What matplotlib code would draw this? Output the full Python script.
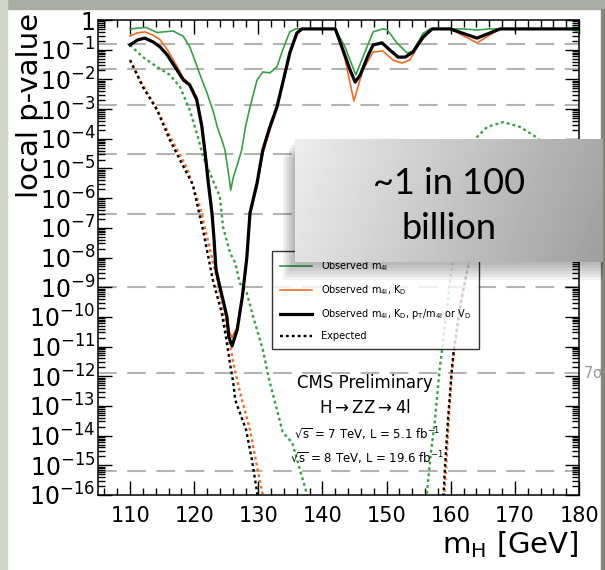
import numpy as np
import matplotlib.pyplot as plt
from matplotlib.lines import Line2D
from matplotlib.patches import Rectangle
from matplotlib.ticker import MultipleLocator, LogLocator, NullFormatter

plt.rcParams['mathtext.default'] = 'regular'

## DATA (log10 of local p-value vs m_H) ##

# observed, m4l only (green)
obs_m4l_m = [110.0, 112.5, 114.2, 116.7, 118.3, 119.3, 120.0, 121.0, 122.0, 123.0, 123.6,
             124.4, 124.8, 125.5, 125.7, 126.1, 126.8, 127.4, 128.0, 128.7, 129.8, 130.7,
             131.8, 132.9, 133.8, 134.9, 135.8, 142.0, 143.5, 145.2, 146.3, 147.9, 149.4,
             150.1, 151.6, 153.2, 154.1, 155.7, 156.8, 162.0, 164.1, 166.0, 178.6, 180.0]
obs_m4l_lp = [-0.30, -0.25, -0.42, -0.37, -0.55, -0.90, -1.30, -1.90, -2.46, -3.10, -3.60,
              -4.10, -4.38, -5.40, -5.73, -5.30, -4.82, -4.38, -3.60, -2.93, -2.02, -1.75,
              -1.78, -1.58, -1.01, -0.40, -0.30, -0.30, -0.90, -1.85, -1.25, -0.40, -0.30,
              -0.33, -0.77, -1.11, -1.05, -0.45, -0.30, -0.30, -0.34, -0.30, -0.30, -0.40]

# observed, m4l + KD (orange)
obs_kd_m = [110.0, 111.0, 112.3, 113.6, 114.7, 115.8, 117.3, 118.3, 119.3, 120.4, 121.2,
            121.7, 122.2, 122.8, 123.1, 123.4, 124.0, 124.6, 125.1, 125.5, 125.9, 126.7,
            127.5, 128.2, 128.7, 129.8, 130.7, 131.8, 132.9, 133.8, 134.9, 136.0, 136.8,
            142.0, 143.5, 144.9, 146.3, 147.9, 149.4, 151.0, 152.4, 153.6, 155.2, 156.8,
            157.3, 159.9, 164.1, 167.7, 180.0]
obs_kd_lp = [-0.54, -0.44, -0.40, -0.51, -0.67, -1.00, -1.55, -1.95, -2.15, -2.60, -3.50,
             -4.30, -5.30, -6.40, -7.30, -8.30, -8.90, -9.50, -10.00, -10.50, -10.70, -10.35,
             -9.30, -8.10, -6.60, -5.60, -4.50, -3.70, -3.00, -2.20, -1.20, -0.50, -0.30,
             -0.30, -1.30, -2.73, -1.68, -1.08, -1.04, -1.35, -1.45, -1.35, -0.77, -0.34,
             -0.30, -0.30, -0.77, -0.30, -0.30]

# observed, m4l + KD + pT/m4l or VD (black)
obs_all_m = [110.0, 111.2, 112.3, 113.6, 114.7, 115.8, 117.3, 118.3, 119.3, 120.4, 121.2,
             121.7, 122.2, 122.8, 123.1, 123.4, 124.0, 124.6, 125.1, 125.4, 125.9, 126.7,
             127.5, 128.2, 128.7, 129.8, 130.7, 131.8, 132.9, 133.8, 134.9, 136.0, 136.8,
             142.0, 143.2, 144.3, 145.1, 145.9, 147.0, 147.9, 149.3, 150.5, 151.8, 152.9,
             154.1, 155.7, 157.1, 159.9, 164.1, 167.7, 180.0]
obs_all_lp = [-0.84, -0.67, -0.61, -0.74, -0.91, -1.18, -1.68, -2.02, -2.19, -2.69, -3.60,
              -4.48, -5.49, -6.57, -7.41, -8.42, -8.99, -9.53, -10.00, -10.68, -10.98, -10.44,
              -9.33, -8.02, -6.50, -5.49, -4.38, -3.60, -2.93, -2.12, -1.11, -0.44, -0.30,
              -0.30, -1.01, -1.68, -2.09, -1.85, -1.25, -0.84, -0.77, -1.01, -1.25, -1.25,
              -1.08, -0.57, -0.30, -0.30, -0.61, -0.30, -0.30]

# expected curves (dotted)
exp_m4l_m = [110.0, 112.0, 114.2, 116.2, 117.8, 119.3, 120.4, 121.4, 122.9, 124.0, 124.5,
             125.6, 126.4, 127.1, 128.2, 129.2, 130.7, 131.7, 133.8, 135.3, 136.5, 137.4,
             138.5, 155.5, 156.3, 156.9, 157.5, 158.3, 158.6, 160.0, 161.0, 162.0, 163.0,
             164.1, 165.7, 168.2, 170.8, 173.5, 176.0, 180.0]
exp_m4l_lp = [-0.84, -1.25, -1.58, -1.85, -2.26, -3.03, -3.81, -4.61, -5.39, -5.95, -6.97,
              -7.85, -8.18, -8.86, -9.19, -10.00, -11.11, -12.13, -13.88, -14.25, -15.16, -15.83,
              -17.00, -17.00, -15.90, -14.58, -13.57, -11.69, -11.20, -8.60, -7.10, -5.80, -4.70,
              -3.94, -3.60, -3.44, -3.60, -3.97, -4.60, -5.60]

exp_kd_m = [110.0, 112.0, 114.2, 116.2, 118.9, 120.9, 122.0, 123.6, 125.1, 126.1, 127.1,
            128.7, 129.9, 130.7, 131.2, 158.6, 159.0, 159.3, 159.7, 160.2, 160.6, 161.5,
            162.5, 163.5, 165.0, 168.0, 172.0, 176.0, 180.0]
exp_kd_lp = [-1.35, -2.20, -3.00, -3.90, -5.00, -6.30, -7.31, -8.76, -10.44, -11.55, -12.50,
             -13.81, -15.16, -16.00, -17.00, -17.00, -16.00, -15.00, -13.40, -11.80, -11.00, -9.60,
             -8.50, -7.60, -6.80, -6.20, -6.30, -6.80, -7.40]

exp_all_m = [110.0, 112.0, 114.2, 116.2, 117.8, 119.8, 120.9, 121.4, 122.2, 122.9, 124.3,
             125.1, 125.6, 126.1, 126.4, 128.1, 129.0, 129.8, 130.3, 158.5, 158.8, 159.1,
             159.6, 160.2, 160.5, 161.5, 162.5, 163.5, 165.0, 168.0, 172.0, 176.0, 180.0]
exp_all_lp = [-1.35, -2.26, -3.03, -4.04, -4.72, -5.55, -6.64, -7.10, -7.98, -8.76, -9.87,
              -10.88, -11.60, -12.23, -12.80, -13.81, -14.82, -15.90, -17.00, -17.00, -16.30, -15.06,
              -13.37, -11.69, -11.10, -9.60, -8.50, -7.60, -6.80, -6.20, -6.30, -6.80, -7.40]

# one-sided gaussian significances 1..8 sigma
sigma_p = [0.1587, 0.02275, 1.350e-3, 3.167e-5, 2.867e-7, 9.866e-10, 1.280e-12, 6.221e-16]

ylabels = ['1'] + [r'$10^{-%d}$' % k for k in range(1, 17)]

GREEN = '#36a045'
ORANGE = '#f26a22'

## FIGURE ##

fig = plt.figure(figsize=(6.05, 5.70), dpi=100)
fig.patch.set_facecolor('white')
ax = fig.add_axes([98/605, 75/570, 481/605, 475/570])

for p in sigma_p:
  ax.axhline(p, color='#b3b3b3', lw=1.5, dashes=(9, 5), zorder=1)

def curve(m, lp, **kw):
  ax.plot(m, 10.0**np.array(lp), **kw)

dots = (0, (1.2, 1.3))
curve(exp_m4l_m, exp_m4l_lp, color=GREEN, lw=1.7, linestyle=dots, zorder=2)
curve(exp_kd_m, exp_kd_lp, color=ORANGE, lw=1.7, linestyle=dots, zorder=2)
curve(exp_all_m, exp_all_lp, color='black', lw=1.7, linestyle=dots, zorder=2)
curve(obs_m4l_m, obs_m4l_lp, color=GREEN, lw=1.2, zorder=3)
curve(obs_kd_m, obs_kd_lp, color=ORANGE, lw=1.2, zorder=3)
curve(obs_all_m, obs_all_lp, color='black', lw=2.3, zorder=4)

ax.set_yscale('log')
ax.set_xlim(105, 180)
ax.set_ylim(1e-16, 1)
ax.set_yticks([10.0**-k for k in range(17)])
ax.set_yticklabels(ylabels)
ax.yaxis.set_minor_locator(LogLocator(base=10, subs=np.arange(2, 10), numticks=200))
ax.yaxis.set_minor_formatter(NullFormatter())
ax.xaxis.set_major_locator(MultipleLocator(10))
ax.xaxis.set_minor_locator(MultipleLocator(2))
ax.tick_params(which='both', direction='in', top=True, right=True, width=1)
ax.tick_params(which='major', length=10)
ax.tick_params(which='minor', length=5)
ax.tick_params(axis='y', labelsize=17, pad=2)
ax.tick_params(axis='x', labelsize=15, pad=8)
for s in ax.spines.values():
  s.set_linewidth(1.1)

ax.set_xlabel(r'$m_{H}$ [GeV]', fontsize=21, loc='right', labelpad=2)
ax.set_ylabel('local p-value', fontsize=21, va='center', ha='center')
ax.yaxis.set_label_coords(-0.142, 0.82)

ax.text(1.008, sigma_p[6], r'7$\sigma$', transform=ax.get_yaxis_transform(),
        color='#999999', fontsize=10.5, va='center', ha='left', clip_on=False)

handles = [Line2D([], [], color=GREEN, lw=1.2),
           Line2D([], [], color=ORANGE, lw=1.2),
           Line2D([], [], color='black', lw=2.3),
           Line2D([], [], color='black', lw=1.7, linestyle=dots)]
labels = [r'Observed m$_{4l}$',
          r'Observed m$_{4l}$, K$_{D}$',
          r'Observed m$_{4l}$, K$_{D}$, p$_{T}$/m$_{4l}$ or V$_{D}$',
          'Expected']
leg = ax.legend(handles, labels, loc='lower left', bbox_to_anchor=(0.362, 0.307),
                fontsize=7, frameon=True, fancybox=False, edgecolor='black',
                handlelength=3.3, handletextpad=0.9, labelspacing=1.05,
                borderpad=0.8, borderaxespad=0)
leg.get_frame().set_linewidth(1.0)
leg.set_zorder(6)

ax.text(0.555, 0.236, 'CMS Preliminary', transform=ax.transAxes, fontsize=12,
        ha='center', va='center')
ax.text(0.555, 0.183, r'H$\rightarrow$ZZ$\rightarrow$4l', transform=ax.transAxes,
        fontsize=12, ha='center', va='center')
ax.text(0.56, 0.129, r'$\sqrt{s}$ = 7 TeV, L = 5.1 fb$^{-1}$', transform=ax.transAxes,
        fontsize=8.5, ha='center', va='center')
ax.text(0.56, 0.078, r'$\sqrt{s}$ = 8 TeV, L = 19.6 fb$^{-1}$', transform=ax.transAxes,
        fontsize=8.5, ha='center', va='center')

## SLIDE DECORATION ##

fig.add_artist(Rectangle((0, 1 - 9/570), 1, 9/570, transform=fig.transFigure,
                         color='#a9ada4', zorder=0.5))
fig.add_artist(Rectangle((0, 0), 7/605, 1, transform=fig.transFigure,
                         color='#cfd6c8', zorder=0.5))
fig.add_artist(Rectangle((601/605, 0), 4/605, 1 - 9/570, transform=fig.transFigure,
                         color='#85867d', zorder=0.5))

# callout box with soft shadow
bx, by, bw, bh = 295/605, 1 - 262/570, 308/605, 123/570
for k in range(6):
  d = (k + 1) * 2.0
  fig.add_artist(Rectangle((bx - d/605, by - 1.5*d/570), bw + d/605, bh,
                           transform=fig.transFigure, color='black',
                           alpha=0.05, lw=0, zorder=1))
ov = fig.add_axes([bx, by, bw, bh], zorder=2)
grad = np.linspace(0.93, 0.66, 256)[None, :] - np.linspace(0, 0.04, 64)[:, None]
ov.imshow(grad, cmap='gray', vmin=0, vmax=1, aspect='auto', extent=(0, 1, 0, 1))
ov.set_xlim(0, 1)
ov.set_ylim(0, 1)
ov.axis('off')
ov.text(0.5, 0.64, '~1 in 100', fontsize=26, family='Lato', ha='center', va='center')
ov.text(0.5, 0.27, 'billion', fontsize=26, family='Lato', ha='center', va='center')

fig.savefig('out.png', dpi=100)
